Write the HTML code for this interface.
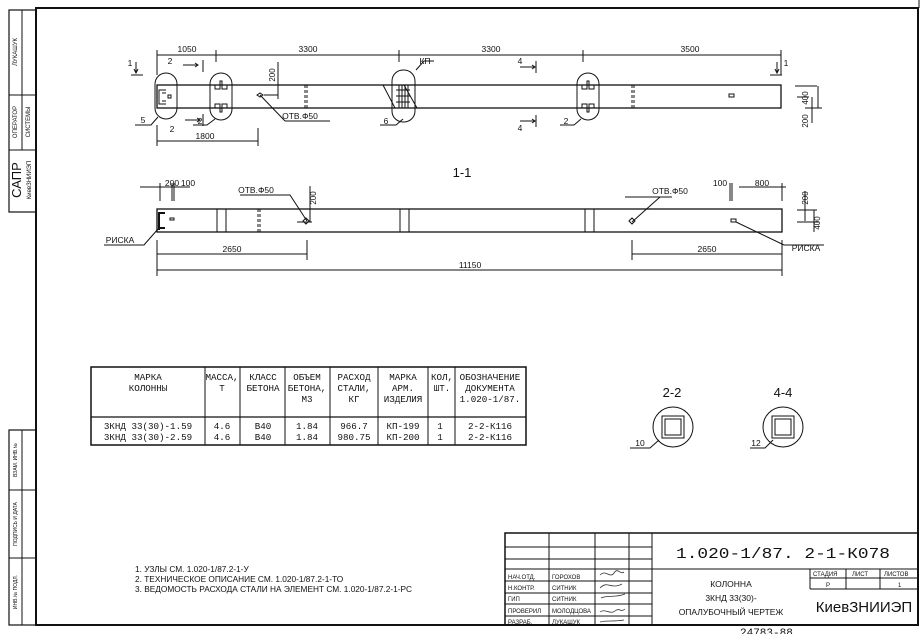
<!DOCTYPE html>
<html><head><meta charset="utf-8"><style>
html,body{margin:0;padding:0;background:#fff}
svg{display:block}
text{font-family:"Liberation Sans","DejaVu Sans",sans-serif;fill:#111}
text.mono{font-family:"Liberation Mono","DejaVu Sans Mono",monospace}
</style></head><body>
<svg width="924" height="634" viewBox="0 0 924 634" xmlns="http://www.w3.org/2000/svg">
<g stroke="#111" fill="none" stroke-width="1">
<rect x="36" y="8" width="882" height="617" stroke-width="2"/>
<line x1="919" y1="0" x2="919" y2="8"/>
<rect x="9" y="10" width="27" height="202" stroke-width="1.2"/>
<line x1="9" y1="95" x2="36" y2="95"/><line x1="9" y1="150" x2="36" y2="150"/>
<line x1="22" y1="10" x2="22" y2="150"/>
<rect x="9" y="430" width="27" height="195" stroke-width="1.2"/>
<line x1="9" y1="490" x2="36" y2="490"/><line x1="9" y1="558" x2="36" y2="558"/>
<line x1="22" y1="430" x2="22" y2="625"/>

<rect x="157" y="85" width="624" height="23" stroke-width="1.3"/>
<line x1="157" y1="55" x2="781" y2="55"/>
<line x1="157" y1="50" x2="157" y2="75"/><line x1="216" y1="50" x2="216" y2="62"/>
<line x1="399" y1="50" x2="399" y2="62"/><line x1="583" y1="50" x2="583" y2="62"/><line x1="781" y1="50" x2="781" y2="75"/>
<rect x="155" y="73" width="22" height="46" rx="11"/>
<path d="M166 90 h-7 v14 h7 M162 93 h4 M162 101 h4"/><rect x="168" y="95" width="3" height="3"/>
<rect x="210" y="73" width="22" height="47" rx="11"/>
<path d="M215 85 v4 h5 v-8 h2 v8 h5 v-4 M215 108 v-4 h5 v8 h2 v-8 h5 v4"/>
<rect x="392" y="70" width="23" height="52" rx="11"/>
<path d="M383 85 l12 23 M404 85 l13 23 M399 85 v23 M402 85 v23 M405 85 v23 M408 85 v23 M396 90 h14 M396 96 h14 M396 102 h14"/>
<rect x="577" y="73" width="22" height="47" rx="11"/>
<path d="M582 85 v4 h5 v-8 h2 v8 h5 v-4 M582 108 v-4 h5 v8 h2 v-8 h5 v4"/>
<rect x="729" y="94" width="5" height="3"/>
<path d="M305 85 v23 M307 85 v23 M632 85 v23 M634 85 v23" stroke-dasharray="3,2"/>
<path d="M131 75 h12 M136 62 v11 M134 69 l2 4 l2 -4"/>
<path d="M770 75 h12 M777 62 v11 M775 69 l2 4 l2 -4"/>
<path d="M183 65 h15 M195 63 l3 2 l-3 2 M185 120 h15 M197 118 l3 2 l-3 2"/>
<line x1="203" y1="60" x2="203" y2="72"/><line x1="203" y1="114" x2="203" y2="126"/>
<path d="M520 67 h15 M532 65 l3 2 l-3 2 M520 121 h15 M532 119 l3 2 l-3 2"/>
<line x1="536" y1="61" x2="536" y2="73"/><line x1="536" y1="115" x2="536" y2="127"/>
<line x1="157" y1="141" x2="258" y2="141"/><line x1="157" y1="125" x2="157" y2="146"/><line x1="258" y1="128" x2="258" y2="146"/>
<line x1="278" y1="62" x2="278" y2="99"/><line x1="264" y1="95" x2="278" y2="95"/>
<path d="M257 95 l3 -2 l3 2 l-3 2z"/>
<line x1="260" y1="95" x2="285" y2="121"/><line x1="285" y1="121" x2="330" y2="121"/>
<path d="M135 125 h16 l7 -8 M193 125 h14 l8 -6 M380 125 h16 l7 -6 M560 125 h14 l7 -6 M416 70 l8 -9 h10"/>
<path d="M795 86 h22 M805 108 h17 M818 86 v22 M797 97 h12 M812 97 v26"/>

<rect x="157" y="209" width="625" height="23" stroke-width="1.3"/>
<path d="M160 213 h5 M160 228 h5 M159 212 v18" stroke-width="2"/>
<rect x="170" y="218" width="4" height="2"/>
<path d="M217 209 v23 M226 209 v23 M400 209 v23 M409 209 v23 M585 209 v23 M594 209 v23"/>
<path d="M258 209 v23 M260 209 v23" stroke-dasharray="3,2"/>
<rect x="731" y="219" width="5" height="3"/>
<path d="M303 221 l3 -3 l3 3 l-3 3z M629 221 l3 -3 l3 3 l-3 3z"/>
<path d="M140 187 h30 M160 183 v18 M170 187 h20 M172 183 v18 M174 183 v18"/>
<path d="M739 187 h47 M730 183 v18 M732 183 v18 M782 183 v18"/>
<path d="M240 195 h50 l17 26 M625 197 h47 M660 197 l-28 25 M310 186 v36 M297 222 h15"/>
<path d="M104 245 h40 l14 -16 M784 245 h40 M784 245 l-48 -23"/>
<path d="M797 210 h20 M797 222 h22 M814 210 v22 M805 191 v30"/>
<path d="M157 254 h150 M307 240 v20 M632 254 h150 M632 240 v20 M157 270 h625 M157 240 v36 M782 240 v36"/>

<rect x="91" y="367" width="435" height="78" stroke-width="1.5"/>
<line x1="91" y1="417" x2="526" y2="417" stroke-width="1.3"/>
<path d="M205 367 v78 M240 367 v78 M285 367 v78 M330 367 v78 M378 367 v78 M428 367 v78 M455 367 v78"/>

<circle cx="673" cy="427" r="20"/><rect x="662" y="416" width="22" height="22"/><rect x="665" y="419" width="16" height="16"/>
<path d="M630 448 h20 l9 -8"/>
<circle cx="783" cy="427" r="20"/><rect x="772" y="416" width="22" height="22"/><rect x="775" y="419" width="16" height="16"/>
<path d="M750 448 h15 l8 -8"/>

<rect x="505" y="533" width="413" height="92" stroke-width="1.5"/>
<path d="M505 547 h147 M505 559 h147 M505 569 h413 M505 581 h147 M505 593 h147 M505 604 h147 M505 616 h147"/>
<path d="M549 533 v92 M595 533 v92 M629 533 v92 M652 533 v92" />
<path d="M810 569 v20 M846 569 v20 M880 569 v20 M810 578 h108 M810 589 h108"/>
</g>

<g font-size="8.5" text-anchor="middle">
<text x="187" y="52">1050</text><text x="308" y="52">3300</text><text x="491" y="52">3300</text><text x="690" y="52">3500</text>
<text x="205" y="139">1800</text>
<text x="300" y="119">ОТВ.Ф50</text>
<text x="172" y="186">200</text><text x="188" y="186">100</text>
<text x="256" y="193">ОТВ.Ф50</text><text x="670" y="194">ОТВ.Ф50</text>
<text x="720" y="186">100</text><text x="762" y="186">800</text>
<text x="120" y="243">РИСКА</text><text x="806" y="251">РИСКА</text>
<text x="232" y="252">2650</text><text x="707" y="252">2650</text><text x="470" y="268">11150</text>
<text x="143" y="123">5</text><text x="200" y="124">2</text><text x="386" y="124">6</text><text x="566" y="124">2</text>
<text x="425" y="64">КП</text>
<text x="170" y="64">2</text><text x="172" y="132">2</text><text x="520" y="64">4</text><text x="520" y="131">4</text>
<text x="130" y="66">1</text><text x="786" y="66">1</text>
<text x="640" y="446">10</text><text x="756" y="446">12</text>
</g>
<g font-size="8" text-anchor="middle">
<text transform="translate(275,75) rotate(-90)">200</text>
<text transform="translate(316,198) rotate(-90)">200</text>
<text transform="translate(808,98) rotate(-90)">400</text>
<text transform="translate(808,121) rotate(-90)">200</text>
<text transform="translate(808,198) rotate(-90)">200</text>
<text transform="translate(820,223) rotate(-90)">400</text>
</g>
<text x="462" y="177" font-size="13" text-anchor="middle">1-1</text>
<text x="672" y="397" font-size="13" text-anchor="middle">2-2</text>
<text x="783" y="397" font-size="13" text-anchor="middle">4-4</text>

<g font-size="9.2" text-anchor="middle">
<text class="mono" x="148" y="380">МАРКА</text><text class="mono" x="148" y="391">КОЛОННЫ</text>
<text class="mono" x="222" y="380">МАССА,</text><text class="mono" x="222" y="391">Т</text>
<text class="mono" x="263" y="380">КЛАСС</text><text class="mono" x="263" y="391">БЕТОНА</text>
<text class="mono" x="307" y="380">ОБЪЕМ</text><text class="mono" x="307" y="391">БЕТОНА,</text><text class="mono" x="307" y="402">М3</text>
<text class="mono" x="354" y="380">РАСХОД</text><text class="mono" x="354" y="391">СТАЛИ,</text><text class="mono" x="354" y="402">КГ</text>
<text class="mono" x="403" y="380">МАРКА</text><text class="mono" x="403" y="391">АРМ.</text><text class="mono" x="403" y="402">ИЗДЕЛИЯ</text>
<text class="mono" x="442" y="380">КОЛ,</text><text class="mono" x="442" y="391">ШТ.</text>
<text class="mono" x="490" y="380">ОБОЗНАЧЕНИЕ</text><text class="mono" x="490" y="391">ДОКУМЕНТА</text><text class="mono" x="490" y="402">1.020-1/87.</text>
<text class="mono" x="148" y="429">3КНД 33(30)-1.59</text><text class="mono" x="148" y="440">3КНД 33(30)-2.59</text>
<text class="mono" x="222" y="429">4.6</text><text class="mono" x="222" y="440">4.6</text>
<text class="mono" x="263" y="429">В40</text><text class="mono" x="263" y="440">В40</text>
<text class="mono" x="307" y="429">1.84</text><text class="mono" x="307" y="440">1.84</text>
<text class="mono" x="354" y="429">966.7</text><text class="mono" x="354" y="440">980.75</text>
<text class="mono" x="403" y="429">КП-199</text><text class="mono" x="403" y="440">КП-200</text>
<text class="mono" x="440" y="429">1</text><text class="mono" x="440" y="440">1</text>
<text class="mono" x="490" y="429">2-2-К116</text><text class="mono" x="490" y="440">2-2-К116</text>
</g>
<text class="mono" x="676" y="558" font-size="15" textLength="214" lengthAdjust="spacingAndGlyphs">1.020-1/87. 2-1-К078</text>
<text class="mono" x="740" y="636" font-size="11">24783-88</text>

<g font-size="8.3">
<text x="135" y="572">1. УЗЛЫ СМ. 1.020-1/87.2-1-У</text>
<text x="135" y="582">2. ТЕХНИЧЕСКОЕ ОПИСАНИЕ СМ. 1.020-1/87.2-1-ТО</text>
<text x="135" y="592">3. ВЕДОМОСТЬ РАСХОДА СТАЛИ НА ЭЛЕМЕНТ СМ. 1.020-1/87.2-1-РС</text>
</g>
<g font-size="6">
<text x="508" y="579">НАЧ.ОТД.</text><text x="552" y="579">ГОРОХОВ</text>
<text x="508" y="590">Н.КОНТР.</text><text x="552" y="590">СИТНИК</text>
<text x="508" y="601">ГИП</text><text x="552" y="601">СИТНИК</text>
<text x="508" y="613">ПРОВЕРИЛ</text><text x="552" y="613">МОЛОДЦОВА</text>
<text x="508" y="624">РАЗРАБ.</text><text x="552" y="624">ЛУКАШУК</text>
<text x="813" y="576">СТАДИЯ</text><text x="852" y="576">ЛИСТ</text><text x="884" y="576">ЛИСТОВ</text>
<text x="826" y="587">Р</text><text x="898" y="587">1</text>
</g>
<g font-size="8.5" text-anchor="middle">
<text x="731" y="587">КОЛОННА</text><text x="731" y="601">3КНД 33(30)-</text><text x="731" y="615">ОПАЛУБОЧНЫЙ ЧЕРТЕЖ</text>
</g>
<text x="864" y="612" font-size="15" text-anchor="middle">КиевЗНИИЭП</text>
<g stroke="#333" fill="none" stroke-width="0.8">
<path d="M600 575 c6 -6 10 4 14 -2 s6 2 10 -1 M600 588 c8 -8 10 2 22 -4 M601 598 c6 -3 14 0 24 -4 M600 612 c5 -4 10 3 15 -1 s5 2 10 -2 M600 622 c6 -2 12 0 24 -2"/>
</g>
<g font-size="6" text-anchor="middle">
<text transform="translate(17,52) rotate(-90)">ЛУКАШУК</text>
<text transform="translate(17,122) rotate(-90)">ОПЕРАТОР</text>
<text transform="translate(30,122) rotate(-90)">СИСТЕМЫ</text>
<text transform="translate(21,180) rotate(-90)" font-size="13">САПР</text>
<text transform="translate(31,180) rotate(-90)">КиевЗНИИЭП</text>
<text transform="translate(17,460) rotate(-90)" font-size="5">ВЗАМ. ИНВ.№</text>
<text transform="translate(17,524) rotate(-90)" font-size="5">ПОДПИСЬ И ДАТА</text>
<text transform="translate(17,592) rotate(-90)" font-size="5">ИНВ.№ ПОДЛ.</text>
</g>
</svg>
</body></html>
